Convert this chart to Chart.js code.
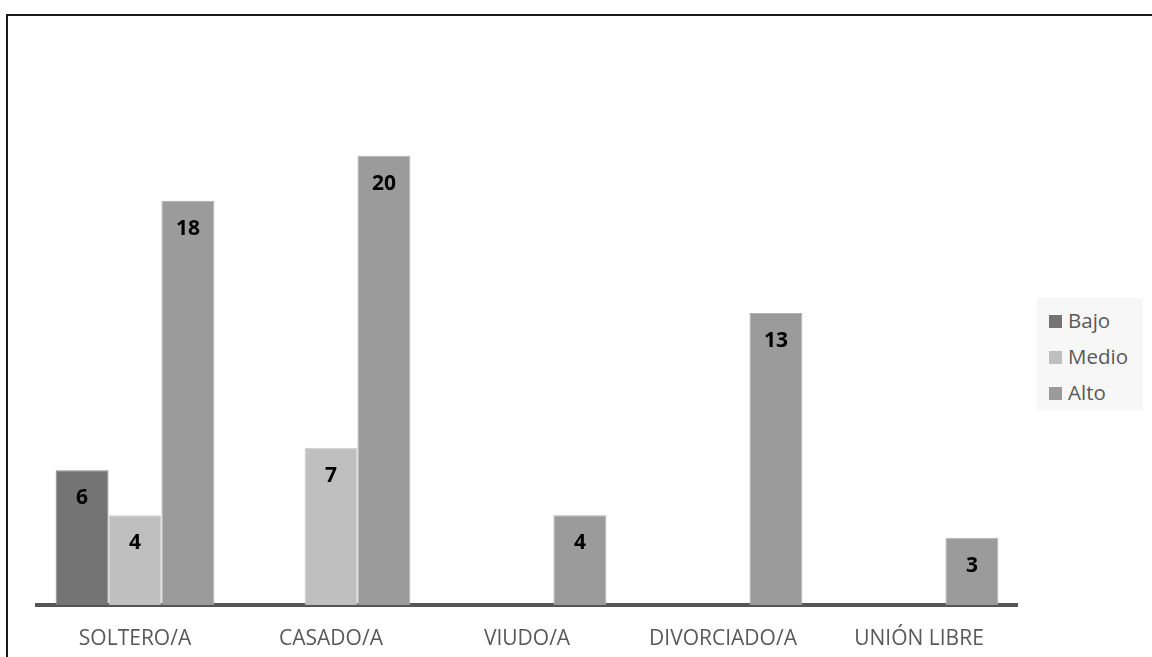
<!DOCTYPE html>
<html>
<head>
<meta charset="utf-8">
<script src="https://cdn.jsdelivr.net/npm/chart.js@4"></script>
<style>
  body { margin: 0; background: #fff; }
  #frame {
    position: absolute; left: 6px; top: 14px;
    width: 1146px; height: 643px;
    border-top: 2px solid #1a1a1a; border-left: 2px solid #1a1a1a;
  }
  #wrap { position: absolute; left: 0; top: 0; width: 1144px; height: 641px; }
  #legend {
    position: absolute; left: 1029px; top: 282px;
    width: 106px; height: 112px; background: #f7f7f7;
    font-family: 'Open Sans', sans-serif; font-size: 20.5px; color: #595959;
  }
  #legend div { position: absolute; left: 12px; height: 28px; line-height: 28px; }
  #legend span {
    display: inline-block; width: 13px; height: 13px; margin-right: 6px; vertical-align: 0px;
  }
</style>
</head>
<body>
<div id="frame">
  <div id="wrap"><canvas id="bar-chart"></canvas></div>
  <div id="legend"></div>
</div>
<script>
const categories = ['SOLTERO/A', 'CASADO/A', 'VIUDO/A', 'DIVORCIADO/A', 'UNIÓN LIBRE'];
const seriesNames = ['Bajo', 'Medio', 'Alto'];
const bajo = [6, null, null, null, null];
const medio = [4, 7, null, null, null];
const alto = [18, 20, 4, 13, 3];
const colors = ['#747474', '#bfbfbf', '#9b9b9b'];
const edges = ['#8a8a8a', '#d0d0d0', '#b0b0b0'];

const bar = document.getElementById('bar-chart');

// numbers written inside the top of each bar
const valueLabels = {
  id: 'valueLabels',
  afterDatasetsDraw(chart) {
    const c = chart.ctx;
    c.save();
    c.font = 'bold 21px "Open Sans", sans-serif';
    c.fillStyle = '#000';
    c.textAlign = 'center';
    c.textBaseline = 'middle';
    chart.data.datasets.forEach((ds, i) => {
      chart.getDatasetMeta(i).data.forEach((el, j) => {
        if (ds.data[j] == null) return;
        c.fillText(ds.data[j], el.x, el.y + 28);
      });
    });
    c.restore();
  },
};

new Chart(bar, {
  type: 'bar',
  data: {
    labels: categories,
    datasets: [bajo, medio, alto].map((d, i) => ({
      label: seriesNames[i],
      data: d,
      backgroundColor: colors[i],
      borderColor: edges[i],
      borderWidth: 1,
      categoryPercentage: 0.81,
      barPercentage: 1,
    })),
  },
  options: {
    responsive: true,
    maintainAspectRatio: false,
    animation: false,
    layout: { padding: { left: 29, right: 135, top: 50, bottom: 0 } },
    scales: {
      x: {
        grid: { display: false },
        border: { display: true, color: '#555', width: 4 },
        ticks: {
          padding: 13,
          color: '#595959',
          font: { size: 21, family: "'Open Sans', sans-serif" },
        },
        afterFit(scale) {
          scale.height = 52;
        },
      },
      y: {
        display: false,
        min: 0,
        max: 24,
      },
    },
    plugins: {
      legend: { display: false },
      tooltip: { enabled: false },
    },
  },
  plugins: [valueLabels],
});

// legend box on the right
const legend = document.getElementById('legend');
seriesNames.forEach((name, i) => {
  const row = document.createElement('div');
  row.style.top = (8 + i * 36) + 'px';
  row.innerHTML = '<span style="background:' + colors[i] + '"></span>' + name;
  legend.appendChild(row);
});
</script>
</body>
</html>
